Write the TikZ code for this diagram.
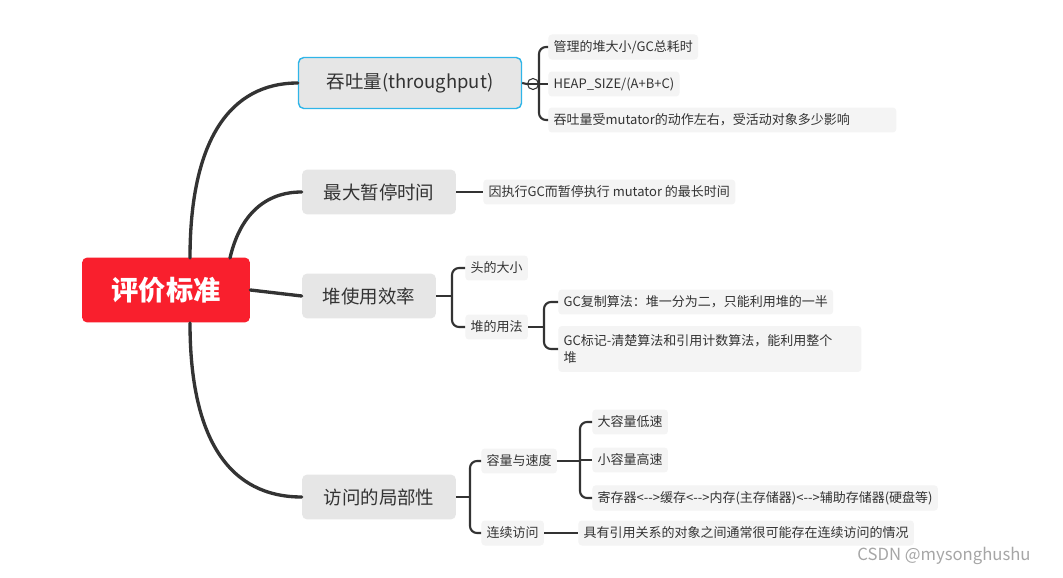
\documentclass[tikz,border=0pt]{standalone}
\usepackage{fontspec}
\setmainfont{Noto Sans CJK SC}
\definecolor{rootred}{HTML}{F91F2D}
\definecolor{topicgray}{HTML}{E6E6E6}
\definecolor{leafgray}{HTML}{F4F4F4}
\definecolor{linedark}{HTML}{333333}
\definecolor{selblue}{HTML}{2FB5E8}
\tikzstyle{root}=[rectangle, rounded corners=3pt, fill=rootred, text=white, font=\fontsize{15.5}{15}\selectfont\bfseries, minimum width=3.36cm, minimum height=1.3cm]
\tikzstyle{topic}=[rectangle, rounded corners=3pt, fill=topicgray, text=linedark, font=\fontsize{10.5}{12}\selectfont, minimum height=0.9cm]
\tikzstyle{leaf}=[rectangle, rounded corners=2pt, fill=leafgray, text=linedark, font=\fontsize{7.4}{9.5}\selectfont, minimum height=0.5cm, inner xsep=3pt, anchor=west]
\tikzstyle{trunk}=[linedark, line width=1.9pt, line cap=round]
\tikzstyle{branch}=[linedark, line width=1.2pt, rounded corners=4pt]
\begin{document}
\begin{tikzpicture}[x=0.02cm, y=-0.02cm]
\useasboundingbox[fill=white] (0,0) rectangle (1063,578);

% main topics
\node[root] (R) at (166,290) {评价标准};
\node[topic, draw=selblue, line width=0.8pt, minimum width=4.46cm, minimum height=1.02cm] (T1) at (410,83) {吞吐量(throughput)};
\node[topic, minimum width=3.08cm] (T2) at (379,192) {最大暂停时间};
\node[topic, minimum width=2.68cm] (T3) at (369,296) {堆使用效率};
\node[topic, minimum width=3.08cm] (T4) at (379,497) {访问的局部性};

% leaves
\node[leaf] (A1) at (548,47) {管理的堆大小/GC总耗时};
\node[leaf] (A2) at (548,84) {HEAP\_SIZE/(A+B+C)};
\node[leaf, minimum width=6.96cm, align=left, text width=6.75cm] (A3) at (548,120) {吞吐量受mutator的动作左右，受活动对象多少影响};
\node[leaf] (B1) at (483,192) {因执行GC而暂停执行 mutator 的最长时间};
\node[leaf] (C1) at (465,268) {头的大小};
\node[leaf] (C2) at (465,327) {堆的用法};
\node[leaf] (C3) at (558,302) {GC复制算法：堆一分为二，只能利用堆的一半};
\node[leaf, text width=5.85cm, align=left, minimum height=0.92cm] (C4) at (558,349) {GC标记-清楚算法和引用计数算法，能利用整个\\堆};
\node[leaf] (D1) at (481,461) {容量与速度};
\node[leaf] (D2) at (481,533) {连续访问};
\node[leaf] (D3) at (592,422) {大容量低速};
\node[leaf] (D4) at (592,460) {小容量高速};
\node[leaf] (D5) at (592,498) {寄存器<{-}{-}>缓存<{-}{-}>内存(主存储器)<{-}{-}>辅助存储器(硬盘等)};
\node[leaf] (D6) at (578,533) {具有引用关系的对象之间通常很可能存在连续访问的情况};

\node[text=gray!70, font=\fontsize{9.5}{11}\selectfont] (W) at (944,556) {CSDN @mysonghushu};

% trunk connectors
\draw[trunk] (190,258) .. controls (190,140) and (230,83) .. (T1.west);
\draw[trunk] (230,258) .. controls (240,215) and (265,192) .. (T2.west);
\draw[trunk] (R.east) -- (T3.west);
\draw[trunk] (190,323) .. controls (190,440) and (230,497) .. (T4.west);

% throughput branches
\node[circle, draw=linedark, fill=white, line width=0.6pt, inner sep=0pt, minimum size=0.22cm] (K) at (533,84) {};
\draw[linedark, line width=0.6pt] (K.west) -- (K.east);
\draw[branch] (T1.east) -- (K.west);
\draw[branch] (K.east) -- (A2.west);
\draw[branch] (A1.west) -| (539,84) |- (A3.west);

% pause branch
\draw[branch] (T2.east) -- (B1.west);

% heap usage branches
\draw[branch] (T3.east) -- (452,296);
\draw[branch] (C1.west) -| (452,296) |- (C2.west);
\draw[branch] (C2.east) -- (544,327);
\draw[branch] (C3.west) -| (544,327) |- (C4.west);

% locality branches
\draw[branch] (T4.east) -- (470,497);
\draw[branch] (D1.west) -| (470,497) |- (D2.west);
\draw[branch] (D1.east) -- (580,461);
\draw[branch] (D3.west) -| (580,461) |- (D5.west);
\draw[branch] (580,460) -- (D4.west);
\draw[branch] (D2.east) -- (D6.west);
\end{tikzpicture}
\end{document}
